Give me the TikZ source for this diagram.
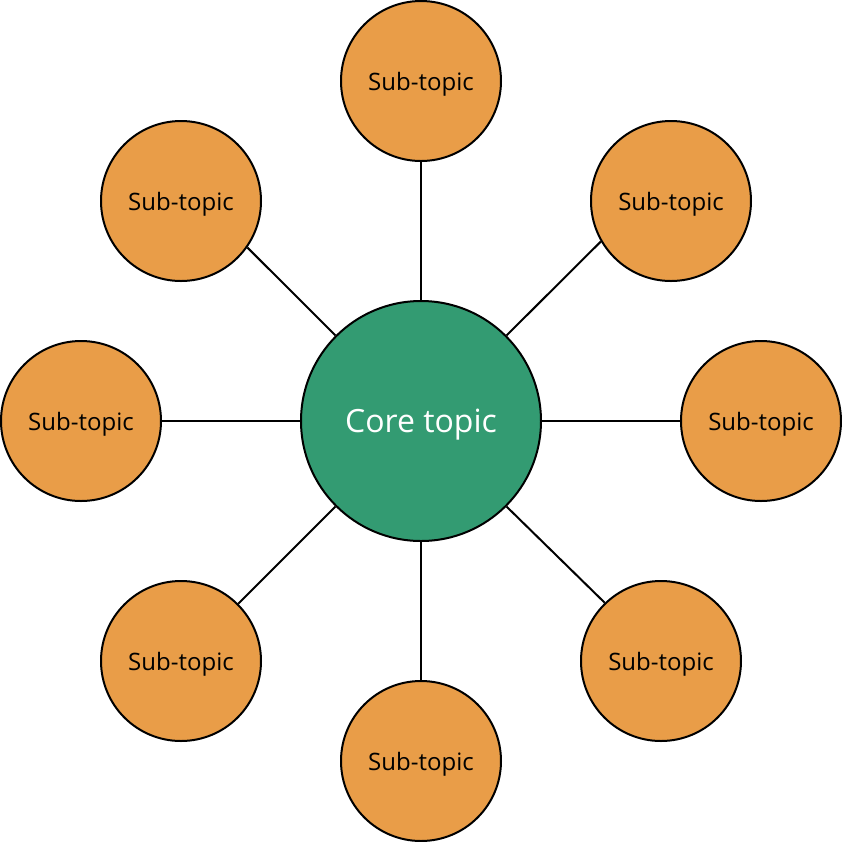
\documentclass[tikz,border=0pt]{standalone}
\usepackage{fontspec}
\setmainfont{Open Sans}
\definecolor{subfill}{RGB}{233,157,72}
\definecolor{corefill}{RGB}{51,155,114}

\begin{document}
\begin{tikzpicture}[x=0.5pt, y=-0.5pt,
    subtopic/.style={circle, draw=black, line width=1pt, fill=subfill, minimum size=80pt, inner sep=0pt, text depth=0pt, font=\fontsize{12}{14}\selectfont},
    coretopic/.style={circle, draw=black, line width=1pt, fill=corefill, minimum size=120pt, inner sep=0pt, text depth=0pt, text=white, font=\fontsize{16}{19}\selectfont},
    spoke/.style={draw=black, line width=1pt}]
  \useasboundingbox (0,0) rectangle (842,842);
  \node[coretopic] (core) at (421,421) {Core topic};
  \node[subtopic] (top) at (421,81) {Sub-topic};
  \node[subtopic] (topright) at (671,201) {Sub-topic};
  \node[subtopic] (right) at (761,421) {Sub-topic};
  \node[subtopic] (botright) at (661,661) {Sub-topic};
  \node[subtopic] (bot) at (421,761) {Sub-topic};
  \node[subtopic] (botleft) at (181,661) {Sub-topic};
  \node[subtopic] (left) at (81,421) {Sub-topic};
  \node[subtopic] (topleft) at (181,201) {Sub-topic};
  % spokes
  \draw[spoke] (core.north) -- (top.south);
  \draw[spoke] (core.45) -- (topright.210);
  \draw[spoke] (core.east) -- (right.west);
  \draw[spoke] (core.-45) -- (botright.134);
  \draw[spoke] (core.south) -- (bot.north);
  \draw[spoke] (core.-135) -- (botleft.45);
  \draw[spoke] (core.west) -- (left.east);
  \draw[spoke] (core.135) -- (topleft.325);
\end{tikzpicture}
\end{document}
